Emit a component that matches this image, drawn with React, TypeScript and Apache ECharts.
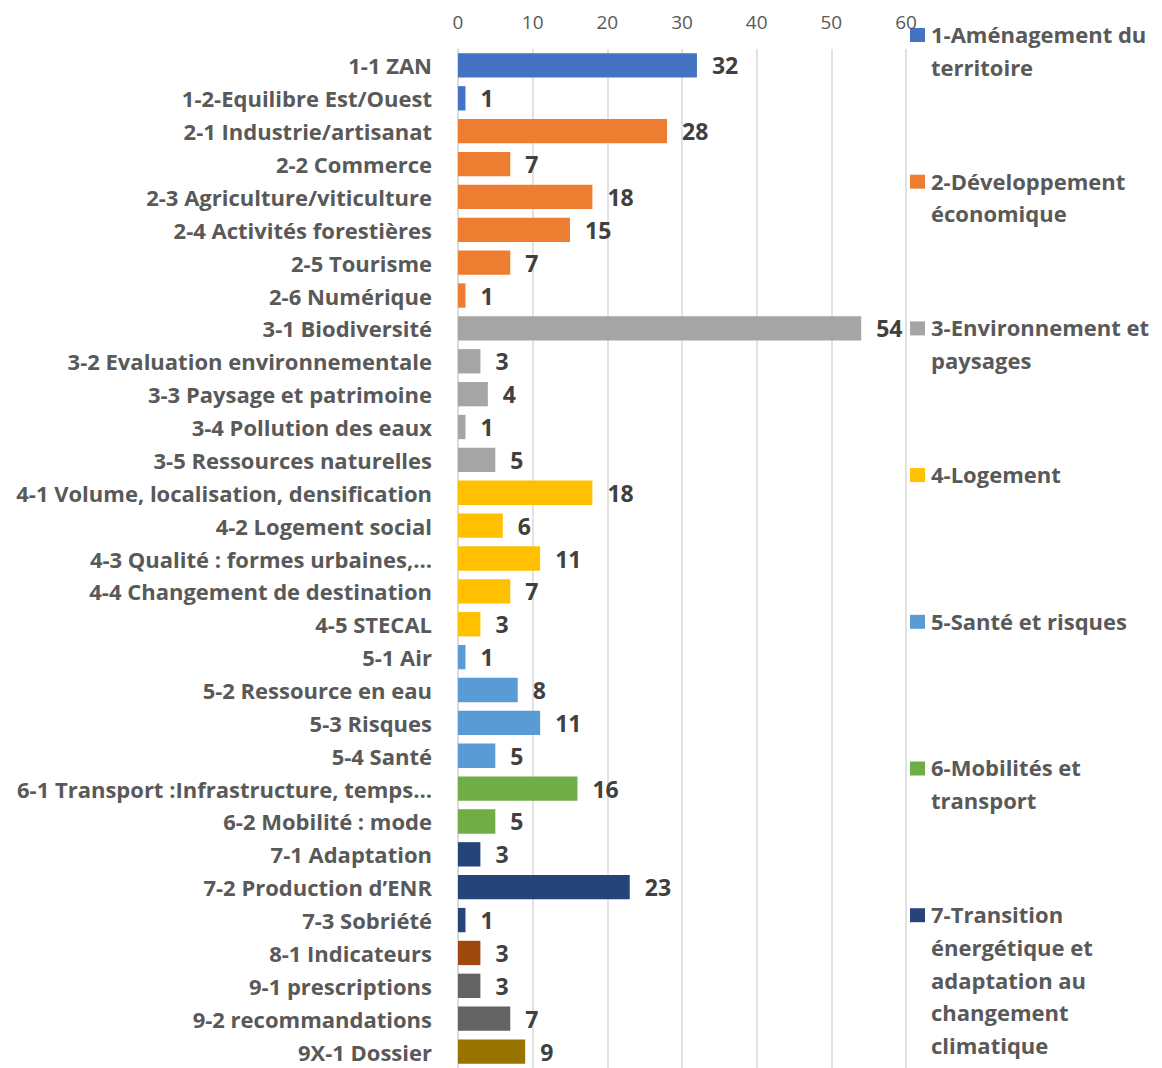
import React, { useEffect, useRef } from "react";
import * as echarts from "echarts";

const categories = [
  "1-1 ZAN",
  "1-2-Equilibre Est/Ouest",
  "2-1 Industrie/artisanat",
  "2-2 Commerce",
  "2-3 Agriculture/viticulture",
  "2-4 Activités forestières",
  "2-5 Tourisme",
  "2-6 Numérique",
  "3-1 Biodiversité",
  "3-2 Evaluation environnementale",
  "3-3 Paysage et patrimoine",
  "3-4 Pollution des eaux",
  "3-5 Ressources naturelles",
  "4-1 Volume, localisation, densification",
  "4-2 Logement social",
  "4-3 Qualité : formes urbaines,…",
  "4-4 Changement de destination",
  "4-5 STECAL",
  "5-1 Air",
  "5-2 Ressource en eau",
  "5-3 Risques",
  "5-4 Santé",
  "6-1 Transport :Infrastructure, temps…",
  "6-2 Mobilité : mode",
  "7-1 Adaptation",
  "7-2 Production d’ENR",
  "7-3 Sobriété",
  "8-1 Indicateurs",
  "9-1 prescriptions",
  "9-2 recommandations",
  "9X-1 Dossier",
];

const values = [32, 1, 28, 7, 18, 15, 7, 1, 54, 3, 4, 1, 5, 18, 6, 11, 7, 3, 1, 8, 11, 5, 16, 5, 3, 23, 1, 3, 3, 7, 9];

// group index of each category (0..9)
const groupOf = [0, 0, 1, 1, 1, 1, 1, 1, 2, 2, 2, 2, 2, 3, 3, 3, 3, 3, 4, 4, 4, 4, 5, 5, 6, 6, 6, 7, 8, 8, 9];

const groupColors = [
  "#4472C4",
  "#ED7D31",
  "#A5A5A5",
  "#FFC000",
  "#5B9BD5",
  "#70AD47",
  "#264478",
  "#9E480E",
  "#636363",
  "#997300",
];

const legendNames = [
  "1-Aménagement du territoire",
  "2-Développement économique",
  "3-Environnement et paysages",
  "4-Logement",
  "5-Santé et risques",
  "6-Mobilités et transport",
  "7-Transition énergétique et adaptation au changement climatique",
];

const legendLines = [
  ["1-Aménagement du", "territoire"],
  ["2-Développement", "économique"],
  ["3-Environnement et", "paysages"],
  ["4-Logement"],
  ["5-Santé et risques"],
  ["6-Mobilités et", "transport"],
  ["7-Transition", "énergétique et", "adaptation au", "changement", "climatique"],
];

const xTicks = [0, 10, 20, 30, 40, 50, 60];

const FONT = "'Open Sans', Lato, sans-serif";

export default function App() {
  const ref = useRef<HTMLDivElement>(null);

  useEffect(() => {
    if (!ref.current) return;
    const chart = echarts.init(ref.current, null, { renderer: "svg" });

    const lineH = 32.7;
    const legendGraphics: any[] = [];
    legendNames.forEach((name, i) => {
      const cy = 35 + i * 146.7;
      legendGraphics.push({
        type: "rect",
        shape: { x: 910, y: cy - 7, width: 15, height: 14 },
        style: { fill: groupColors[i] },
        silent: true,
      });
      legendGraphics.push({
        type: "text",
        x: 931,
        y: cy - lineH / 2 - 1,
        style: {
          text: legendLines[i].join("\n"),
          font: `bold 22px ${FONT}`,
          fill: "#595959",
          lineHeight: lineH,
          verticalAlign: "top",
          align: "left",
        },
        silent: true,
      });
    });

    chart.setOption({
      animation: false,
      backgroundColor: "#ffffff",
      textStyle: { fontFamily: FONT },
      grid: { left: 458, width: 448, top: 49, height: 1024 },
      xAxis: {
        type: "value",
        position: "top",
        min: xTicks[0],
        max: xTicks[xTicks.length - 1],
        interval: 10,
        axisLine: { show: false },
        axisTick: { show: false },
        axisLabel: { color: "#595959", fontSize: 19, fontFamily: FONT, margin: 18 },
        splitLine: { show: true, lineStyle: { color: "#D9D9D9", width: 1.5 } },
      },
      yAxis: {
        type: "category",
        data: categories,
        inverse: true,
        axisLine: { show: true, lineStyle: { color: "#D9D9D9", width: 1.5 } },
        axisTick: { show: false },
        axisLabel: {
          color: "#595959",
          fontSize: 22,
          fontWeight: "bold",
          fontFamily: FONT,
          margin: 26,
          padding: [3, 0, 0, 0],
        },
      },
      series: [
        {
          type: "bar",
          barCategoryGap: "26%",
          data: values.map((v, i) => ({
            value: v,
            itemStyle: { color: groupColors[groupOf[i]] },
          })),
          label: {
            show: true,
            position: "right",
            distance: 15,
            color: "#404040",
            fontSize: 23,
            lineHeight: 22,
            fontWeight: "bold",
            fontFamily: FONT,
          },
        },
      ],
      graphic: legendGraphics,
    });

    return () => chart.dispose();
  }, []);

  return (
    <div
      ref={ref}
      style={{ position: "absolute", left: 0, top: 0, width: 1162, height: 1068 }}
    />
  );
}
